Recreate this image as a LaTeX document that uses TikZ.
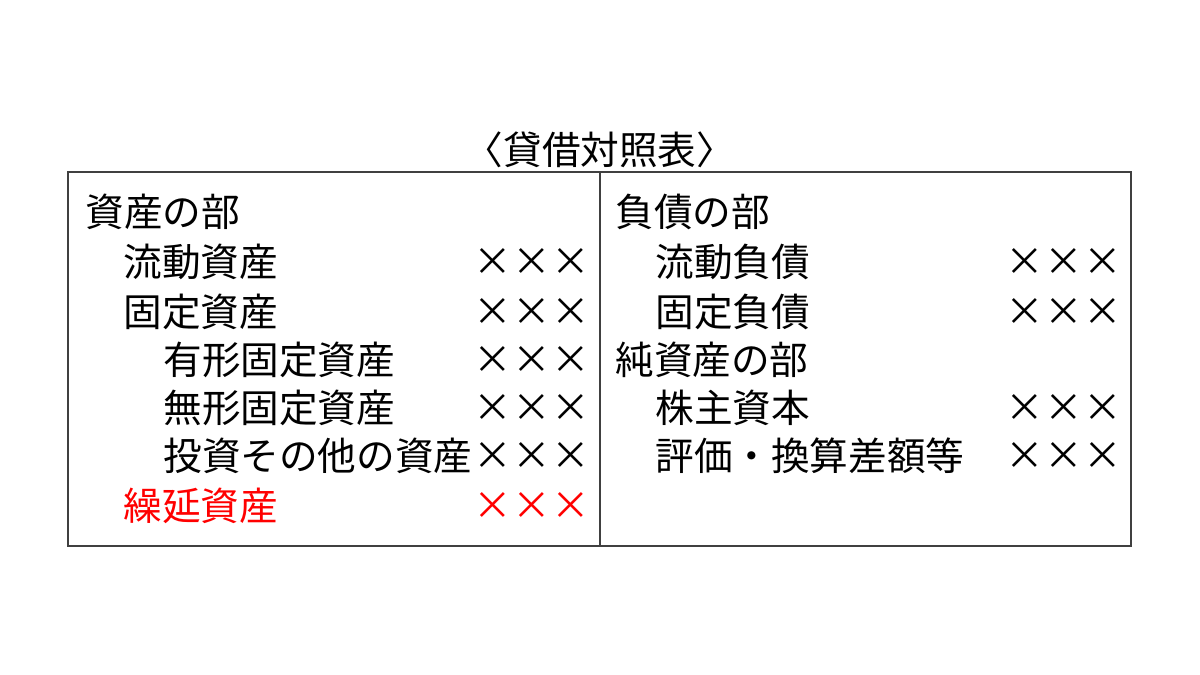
\documentclass[tikz,border=0pt]{standalone}
\usepackage{fontspec}
\setmainfont{Noto Sans CJK JP}
\begin{document}
\begin{tikzpicture}
        [x=0.02cm,y=-0.02cm,every node/.style={inner sep=0,font=\fontsize{22}{26}\selectfont},
         lft/.style={anchor=west}, amt/.style={anchor=east}, box/.style={line width=0.6pt,draw=black!75}]

        \useasboundingbox (0,0) rectangle (1200,675);

        \node (title) at (600,150) {〈貸借対照表〉};
        \draw[box] (68,172) rectangle (1131,546);
        \draw[box] (600,172) -- (600,546);

        % left side
        \node[lft] (a0) at (85,212) {資産の部};
        \node[lft] (a1) at (123,262) {流動資産};
        \node[lft] (a2) at (123,312) {固定資産};
        \node[lft] (a3) at (163,360) {有形固定資産};
        \node[lft] (a4) at (163,408) {無形固定資産};
        \node[lft] (a5) at (163,456) {投資その他の資産};
        \node[lft,text=red] (a6) at (123,506) {繰延資産};
        \foreach \y/\n in {262/1,312/2,360/3,408/4,456/5}
          \node[amt] (av\n) at (590,\y) {×××};
        \node[amt,text=red] (av6) at (590,506) {×××};

        % right side
        \node[lft] (b0) at (615,212) {負債の部};
        \node[lft] (b1) at (655,262) {流動負債};
        \node[lft] (b2) at (655,312) {固定負債};
        \node[lft] (b3) at (615,360) {純資産の部};
        \node[lft] (b4) at (655,408) {株主資本};
        \node[lft] (b5) at (655,456) {評価・換算差額等};
        \foreach \y/\n in {262/1,312/2,408/4,456/5}
          \node[amt] (bv\n) at (1122,\y) {×××};

\end{tikzpicture}
\end{document}
